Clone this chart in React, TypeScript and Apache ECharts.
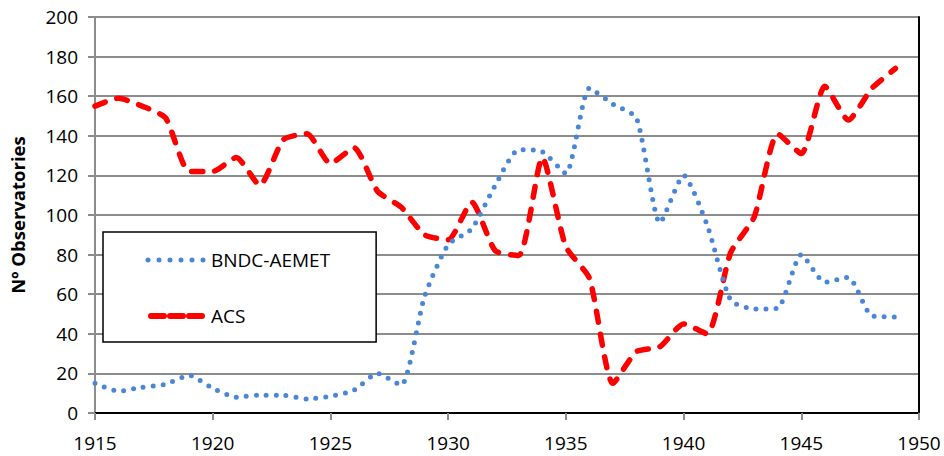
import React, { useEffect, useRef } from "react";
import * as echarts from "echarts";

const years = [1915,1916,1917,1918,1919,1920,1921,1922,1923,1924,1925,1926,1927,1928,1929,1930,1931,1932,1933,1934,1935,1936,1937,1938,1939,1940,1941,1942,1943,1944,1945,1946,1947,1948,1949];
const bndcAemet = [15,11,13,14.5,19,12.5,8,9,9,7,8.5,11.5,20,14,59,85,93,115,133,132,121,164,156,149,96,120,95,57,52.5,53,80,66,68.5,49,48.5];
const acs = [155,159,155,149,122,122,129,115,138,141,126,134,112,104,90,87.5,106.5,82,79.5,129,84,68,15,31,33.5,45,40,81,99,141,131,165,148,164,174];
const seriesNames = ["BNDC-AEMET", "ACS"];

const FONT = "'Open Sans', 'Liberation Sans', sans-serif";
const BLUE = "#4a86d6";
const RED = "#ff0000";

export default function App() {
  const ref = useRef<HTMLDivElement>(null);
  useEffect(() => {
    document.body.style.margin = "0";
    const chart = echarts.init(ref.current!, null, { renderer: "svg" });
    chart.setOption({
      animation: false,
      backgroundColor: "#ffffff",
      textStyle: { fontFamily: FONT },
      grid: { left: 90, right: 25, top: 17, bottom: 43 },
      legend: {
        left: 103,
        top: 232,
        orient: "vertical",
        data: [
          { name: seriesNames[0], lineStyle: { color: BLUE, width: 5, type: [0, 11], cap: "round" } },
          { name: seriesNames[1], lineStyle: { color: RED, width: 6, type: [13, 6], cap: "round", dashOffset: -3 } },
        ],
        itemWidth: 58,
        itemHeight: 14,
        itemGap: 32,
        padding: [16, 46, 14, 42],
        borderColor: "#000",
        borderWidth: 1.5,
        backgroundColor: "#fff",
        itemStyle: { opacity: 0 },
        textStyle: { fontFamily: FONT, fontSize: 19, color: "#000", lineHeight: 24 },
      },
      xAxis: [
        {
          type: "value",
          min: 1915,
          max: 1950,
          interval: 5,
          axisLine: { lineStyle: { color: "#8c8c8c", width: 2 } },
          axisTick: { show: true, length: 7, inside: false, lineStyle: { color: "#8c8c8c", width: 2 } },
          axisLabel: { color: "#000", fontSize: 19, fontFamily: FONT, margin: 20, formatter: (v: number) => String(v) },
          splitLine: { show: false },
        },
        {
          type: "value",
          position: "top",
          min: 1915,
          max: 1950,
          axisLine: { show: true, lineStyle: { color: "#000", width: 2 } },
          axisTick: { show: false },
          axisLabel: { show: false },
          splitLine: { show: false },
        },
      ],
      yAxis: [
        {
          type: "value",
          min: 0,
          max: 200,
          interval: 20,
          name: "Nº Observatories",
          nameLocation: "middle",
          nameGap: 68,
          nameTextStyle: { fontFamily: FONT, fontSize: 18.5, fontWeight: "bold", color: "#000" },
          axisLine: { show: true, lineStyle: { color: "#8c8c8c", width: 2 } },
          axisTick: { show: true, length: 7, lineStyle: { color: "#8c8c8c", width: 2 } },
          axisLabel: { color: "#000", fontSize: 19, fontFamily: FONT, margin: 17 },
          splitLine: { show: true, lineStyle: { color: "#8c8c8c", width: 2 } },
        },
        {
          type: "value",
          position: "right",
          min: 0,
          max: 200,
          axisLine: { show: true, lineStyle: { color: "#000", width: 2 } },
          axisTick: { show: false },
          axisLabel: { show: false },
          splitLine: { show: false },
        },
      ],
      series: [
        {
          name: seriesNames[0],
          type: "line",
          data: years.map((y, i) => [y, bndcAemet[i]]),
          smooth: 0.2,
          showSymbol: false,
          symbol: "none",
          color: BLUE,
          lineStyle: { color: BLUE, width: 5, type: [0, 10], cap: "round" },
          z: 3,
        },
        {
          name: seriesNames[1],
          type: "line",
          data: years.map((y, i) => [y, acs[i]]),
          smooth: 0.2,
          showSymbol: false,
          symbol: "none",
          color: RED,
          lineStyle: { color: RED, width: 5.5, type: [11, 12], cap: "round" },
          z: 2,
        },
      ],
    });
    return () => chart.dispose();
  }, []);
  return <div ref={ref} style={{ width: 944, height: 456 }} />;
}
